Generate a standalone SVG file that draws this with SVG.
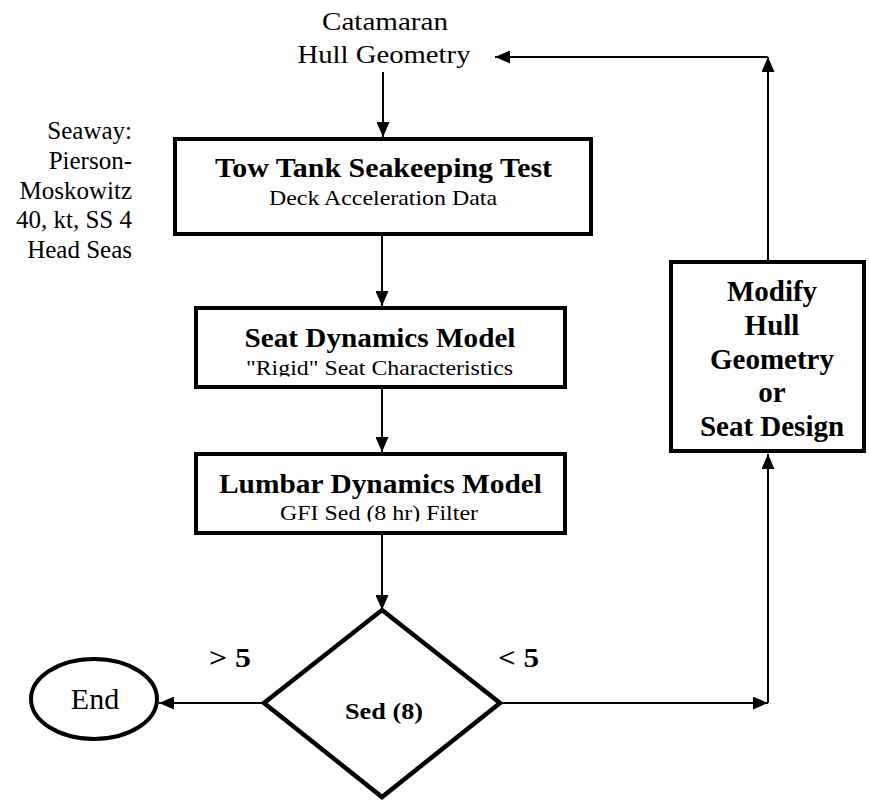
<svg xmlns="http://www.w3.org/2000/svg" width="869" height="802" viewBox="0 0 869 802">
<defs>
<style>
.box{fill:#fff;stroke:#000;stroke-width:4}
.conn{fill:none;stroke:#000;stroke-width:2}
.t{font-family:"Liberation Serif","Times New Roman",serif;fill:#000}
.b{font-weight:bold}
.m{text-anchor:middle}
.e{text-anchor:end}
</style>
<marker id="ah" markerUnits="userSpaceOnUse" markerWidth="15" markerHeight="13" refX="15" refY="6.5" orient="auto" viewBox="0 0 15 13">
<path d="M0,0 L15,6.5 L0,13 z" fill="#000"/>
</marker>
<clipPath id="c0"><rect x="0" y="0" width="869" height="68"/></clipPath>
<clipPath id="c1"><rect x="0" y="0" width="869" height="376.5"/></clipPath>
<clipPath id="c2"><rect x="0" y="0" width="869" height="521.5"/></clipPath>
</defs>
<rect width="869" height="802" fill="#fff"/>

<g id="connectors">
<line class="conn" x1="383" y1="72" x2="383" y2="137" marker-end="url(#ah)"/>
<line class="conn" x1="382" y1="236" x2="382" y2="306" marker-end="url(#ah)"/>
<line class="conn" x1="382" y1="389" x2="382" y2="452" marker-end="url(#ah)"/>
<line class="conn" x1="382" y1="535" x2="382" y2="610" marker-end="url(#ah)"/>
<line class="conn" x1="264" y1="703" x2="159" y2="703" marker-end="url(#ah)"/>
<line class="conn" x1="500" y1="703" x2="768" y2="703" marker-end="url(#ah)"/>
<line class="conn" x1="768" y1="703" x2="768" y2="454" marker-end="url(#ah)"/>
<line class="conn" x1="768" y1="260" x2="768" y2="57" marker-end="url(#ah)"/>
<line class="conn" x1="768" y1="57" x2="495" y2="57" marker-end="url(#ah)"/>
</g>

<g id="hull">
<text class="t m" x="385" y="30" font-size="26" textLength="126" lengthAdjust="spacingAndGlyphs">Catamaran</text>
<text class="t m" x="384" y="63" font-size="26" textLength="173" lengthAdjust="spacingAndGlyphs" clip-path="url(#c0)">Hull Geometry</text>
</g>

<g id="seaway">
<text class="t e" font-size="25" x="132" y="139">Seaway:</text>
<text class="t e" font-size="25" x="132" y="169">Pierson-</text>
<text class="t e" font-size="25" x="132" y="199">Moskowitz</text>
<text class="t e" font-size="25" x="132" y="228">40, kt, SS 4</text>
<text class="t e" font-size="25" x="132" y="258">Head Seas</text>
</g>

<g id="towtank">
<rect class="box" x="175" y="139" width="416" height="95"/>
<text class="t b m" x="383.5" y="177" font-size="28" textLength="337" lengthAdjust="spacingAndGlyphs">Tow Tank Seakeeping Test</text>
<text class="t m" x="383" y="205" font-size="22" textLength="228" lengthAdjust="spacingAndGlyphs">Deck Acceleration Data</text>
</g>

<g id="seat">
<rect class="box" x="196" y="308" width="369" height="79"/>
<text class="t b m" x="380" y="347" font-size="28" textLength="271" lengthAdjust="spacingAndGlyphs">Seat Dynamics Model</text>
<text class="t m" x="379.5" y="375" font-size="22" textLength="267" lengthAdjust="spacingAndGlyphs" clip-path="url(#c1)">"Rigid" Seat Characteristics</text>
</g>

<g id="lumbar">
<rect class="box" x="196" y="454" width="369" height="79"/>
<text class="t b m" x="380.5" y="493" font-size="28" textLength="323" lengthAdjust="spacingAndGlyphs">Lumbar Dynamics Model</text>
<text class="t m" x="379" y="520" font-size="22" textLength="198" lengthAdjust="spacingAndGlyphs" clip-path="url(#c2)">GFI Sed (8 hr) Filter</text>
</g>

<g id="decision">
<polygon points="382,610 500,703 382,797 264,703" fill="#fff" stroke="#000" stroke-width="4.5" stroke-linejoin="miter"/>
<text class="t b m" x="384" y="719" font-size="24" textLength="78" lengthAdjust="spacingAndGlyphs">Sed (8)</text>
</g>

<g id="labels">
<text class="t b" x="209" y="667" font-size="28" textLength="42" lengthAdjust="spacingAndGlyphs">&gt; 5</text>
<text class="t b" x="498" y="667" font-size="28" textLength="41" lengthAdjust="spacingAndGlyphs">&lt; 5</text>
</g>

<g id="end">
<ellipse class="box" cx="94" cy="699" rx="63" ry="40"/>
<text class="t m" x="95" y="709" font-size="30">End</text>
</g>

<g id="modify">
<rect class="box" x="671" y="262" width="193" height="189"/>
<text class="t b m" x="772" y="301" font-size="29">Modify</text>
<text class="t b m" x="772" y="335" font-size="29">Hull</text>
<text class="t b m" x="772" y="369" font-size="29">Geometry</text>
<text class="t b m" x="772" y="402" font-size="29">or</text>
<text class="t b m" x="772" y="436" font-size="29">Seat Design</text>
</g>
</svg>
